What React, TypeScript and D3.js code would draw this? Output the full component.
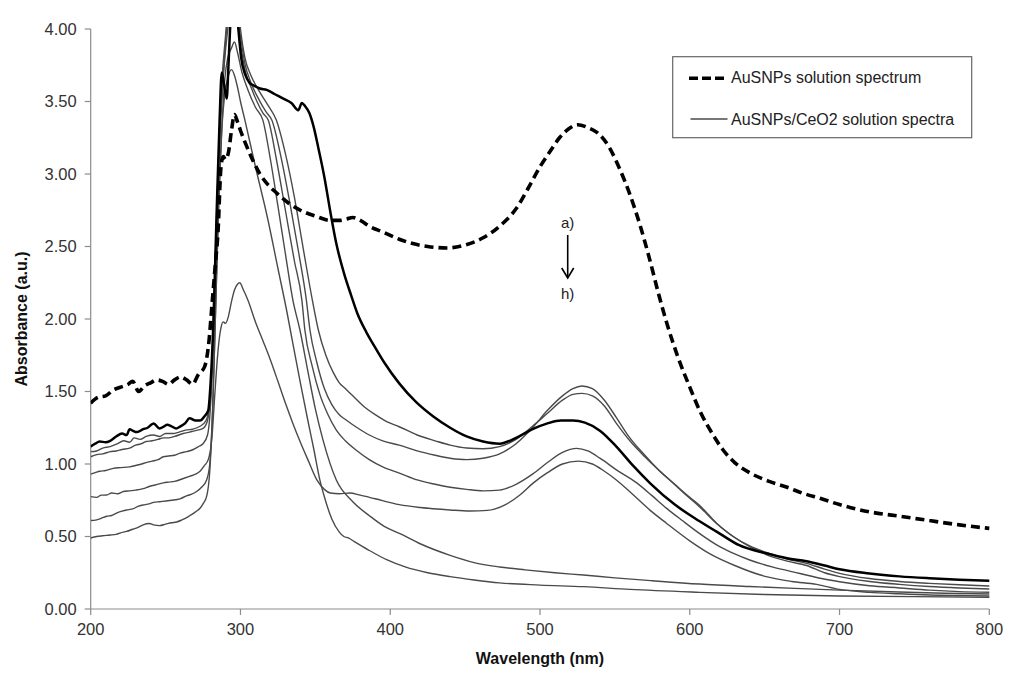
import * as d3 from 'd3';
import * as React from 'react';

// wavelength ticks and absorbance ticks
const xTicks = [200, 300, 400, 500, 600, 700, 800];
const yTicks = [0, 0.5, 1, 1.5, 2, 2.5, 3, 3.5, 4];

// AuSNPs solution spectrum (dashed)
const ausnpWl = [200, 205, 210, 215, 220, 225, 228, 232, 236, 240, 244, 248, 252, 256, 260, 264, 268, 272, 276, 279, 281, 283, 285, 287, 288.5, 290, 292, 294, 296, 298, 300, 303, 308, 313, 318, 324, 332, 340, 350, 360, 366, 371, 375, 380, 386, 395, 406, 415, 425, 438, 450, 462, 473, 484, 492, 500, 507, 513, 519, 525, 532, 540, 547, 553, 560, 567, 573, 579, 585, 592, 600, 607, 615, 622, 630, 640, 653, 665, 675, 688, 700, 720, 740, 760, 780, 800];
const ausnpAbs = [1.42, 1.46, 1.47, 1.51, 1.53, 1.55, 1.57, 1.5, 1.54, 1.56, 1.58, 1.57, 1.55, 1.58, 1.6, 1.58, 1.55, 1.62, 1.67, 1.85, 2.1, 2.35, 2.6, 3.05, 3.12, 3.1, 3.15, 3.3, 3.41, 3.36, 3.3, 3.22, 3.1, 3.0, 2.93, 2.87, 2.8, 2.75, 2.71, 2.68, 2.68, 2.69, 2.7, 2.68, 2.64, 2.6, 2.55, 2.52, 2.5, 2.49, 2.51, 2.56, 2.64, 2.76, 2.9, 3.05, 3.16, 3.25, 3.31, 3.34, 3.32, 3.27, 3.17, 3.04, 2.86, 2.64, 2.42, 2.18, 1.96, 1.74, 1.53, 1.36, 1.21, 1.1, 1.01, 0.94, 0.88, 0.84, 0.8, 0.76, 0.72, 0.67, 0.64, 0.61, 0.58, 0.556];

// AuSNPs/CeO2 spectra: bold one
const boldWl = [200, 203, 206, 210, 213, 217, 221, 224, 226, 228, 231, 235, 238, 242, 246, 249, 251, 254, 257, 260, 263, 266, 270, 273, 276, 278.5, 280, 282, 284, 286, 287.5, 289, 290.8, 292, 293.5, 295, 297, 298.6, 300.5, 303, 306, 309, 313, 317.5, 323, 328.6, 334, 338.6, 341, 343, 346, 349, 352, 356, 360, 364, 369, 374, 378, 384, 389, 396, 406, 417, 429, 440, 451, 462, 473, 484, 495, 505, 514, 522, 530, 540, 551, 562, 573.6, 590, 606.6, 620, 633, 651, 665, 678, 690, 700, 720, 740, 760, 780, 800];
const boldAbs = [1.12, 1.14, 1.155, 1.15, 1.16, 1.19, 1.21, 1.2, 1.24, 1.23, 1.22, 1.24, 1.25, 1.28, 1.245, 1.26, 1.27, 1.26, 1.245, 1.26, 1.28, 1.315, 1.3, 1.3, 1.33, 1.37, 1.55, 2.0, 2.7, 3.35, 3.7, 3.62, 3.52, 3.75, 4.1, 4.3, 4.2, 4.0, 3.8, 3.69, 3.63, 3.61, 3.59, 3.58, 3.55, 3.52, 3.49, 3.44, 3.49, 3.47, 3.42, 3.32, 3.18, 2.98, 2.74, 2.52, 2.32, 2.16, 2.04, 1.91, 1.82, 1.7, 1.556, 1.43, 1.326, 1.25, 1.19, 1.155, 1.14, 1.18, 1.24, 1.28, 1.3, 1.3, 1.285, 1.23, 1.12, 0.99, 0.867, 0.72, 0.605, 0.52, 0.44, 0.384, 0.35, 0.33, 0.3, 0.274, 0.245, 0.225, 0.212, 0.202, 0.195];

// thin spectra
const specAWl = [200, 204, 208, 213, 218, 222, 226, 229, 233, 237, 242, 246, 250, 255, 259, 264, 268, 273, 277, 280, 282, 284, 286, 288, 290, 292, 294, 296, 298, 300, 303, 307, 312, 318, 324, 330, 336, 342, 348, 352, 357, 362, 366, 370, 375, 382, 390, 398, 406, 418, 430, 440, 451, 462, 473, 484, 495, 505, 515, 522, 528, 535, 543, 551, 560, 570, 578, 586.6, 596, 607, 618, 629, 640, 651, 665, 678, 690, 700, 720, 740, 760, 780, 800];
const specAAbs = [1.085, 1.09, 1.11, 1.12, 1.14, 1.16, 1.15, 1.18, 1.17, 1.19, 1.2, 1.19, 1.21, 1.21, 1.22, 1.235, 1.24, 1.26, 1.3, 1.45, 1.9, 2.6, 3.2, 3.6, 3.85, 4.05, 4.3, 4.4, 4.2, 4.0, 3.8, 3.68, 3.58, 3.48, 3.37, 3.14, 2.84, 2.48, 2.13, 1.924, 1.75, 1.63, 1.56, 1.52, 1.47, 1.4, 1.34, 1.29, 1.257, 1.2, 1.16, 1.13, 1.11, 1.105, 1.12, 1.17, 1.26, 1.35, 1.44, 1.48, 1.487, 1.47, 1.4, 1.28, 1.16, 1.05, 0.97, 0.89, 0.8, 0.7, 0.59, 0.5, 0.435, 0.39, 0.345, 0.315, 0.275, 0.246, 0.21, 0.19, 0.177, 0.167, 0.159];

const specBWl = [200, 204, 208, 213, 217, 221, 226, 230, 234, 237, 241, 245, 248.5, 252, 256, 261.8, 266, 270, 275, 278, 280, 282, 284, 286, 288, 290, 292, 294, 296, 298, 300, 303, 307, 312, 317, 321, 327, 333, 339, 344, 346.4, 351, 356, 361, 366, 371, 378, 386, 395, 406, 418, 430, 440, 451, 462, 473, 484, 495, 505, 515, 522, 528, 535, 543, 551, 560, 570, 580, 590, 600, 607, 618, 629, 640, 651, 665, 678, 690, 700, 720, 740, 760, 780, 800];
const specBAbs = [1.05, 1.065, 1.07, 1.085, 1.09, 1.1, 1.11, 1.13, 1.14, 1.155, 1.16, 1.17, 1.18, 1.18, 1.19, 1.21, 1.22, 1.23, 1.245, 1.3, 1.5, 2.0, 2.7, 3.3, 3.7, 3.95, 4.2, 4.4, 4.3, 4.1, 3.95, 3.76, 3.63, 3.52, 3.43, 3.37, 3.12, 2.8, 2.45, 2.13, 1.924, 1.7, 1.52, 1.41, 1.34, 1.3, 1.25, 1.2, 1.16, 1.13, 1.09, 1.06, 1.04, 1.03, 1.04, 1.07, 1.14, 1.25, 1.37, 1.47, 1.52, 1.538, 1.52, 1.44, 1.32, 1.18, 1.06, 0.95, 0.86, 0.77, 0.71, 0.59, 0.5, 0.43, 0.375, 0.33, 0.3, 0.25, 0.223, 0.19, 0.17, 0.155, 0.145, 0.138];

const specCWl = [200, 203, 206, 210, 215, 220, 226, 230, 234, 237, 241, 245, 248.5, 252, 256, 259.6, 264, 268.5, 272, 275, 278, 280, 282, 284, 286, 288, 290, 292, 294, 296, 298, 300, 303, 307, 311, 315, 318.6, 324, 330, 336, 341, 343, 348, 353, 358, 364, 370, 378, 386, 395, 406.5, 418, 430, 440, 451, 462, 473, 484, 495, 505, 515, 524.5, 532, 540, 551, 564.6, 575, 584.6, 595, 606.6, 620, 630, 640, 655, 673.6, 688, 700, 720, 740, 760, 780, 800];
const specCAbs = [0.93, 0.94, 0.95, 0.955, 0.97, 0.975, 0.98, 0.99, 1.0, 1.01, 1.02, 1.03, 1.05, 1.055, 1.06, 1.075, 1.085, 1.1, 1.12, 1.14, 1.2, 1.4, 1.9, 2.6, 3.2, 3.6, 3.9, 4.15, 4.3, 4.25, 4.05, 3.9, 3.72, 3.6, 3.5, 3.42, 3.37, 3.1, 2.75, 2.4, 2.13, 1.924, 1.67, 1.48, 1.35, 1.234, 1.16, 1.09, 1.03, 0.98, 0.936, 0.89, 0.86, 0.84, 0.825, 0.815, 0.82, 0.86, 0.93, 1.01, 1.08, 1.108, 1.09, 1.04, 0.96, 0.87, 0.78, 0.694, 0.61, 0.52, 0.43, 0.38, 0.338, 0.29, 0.245, 0.21, 0.188, 0.16, 0.145, 0.13, 0.12, 0.115];

const specDWl = [200, 204, 207, 210.7, 214, 218, 221.8, 226, 230, 235, 239, 243, 248.5, 252, 256, 261.8, 266, 270, 273, 276, 278.5, 280.8, 283, 285, 287, 288.5, 290, 292, 294, 296, 298, 299.5, 302, 305, 310, 315, 320, 325, 330, 335, 340, 345, 351, 356, 360, 366, 373, 380, 390, 406, 420, 440, 453, 465, 477, 487, 495.6, 505, 515, 525.6, 535, 543, 551, 562, 573.6, 584.6, 600, 613.5, 630, 651, 668, 684.7, 700, 720, 740, 760, 780, 800];
const specDAbs = [0.775, 0.77, 0.785, 0.786, 0.8, 0.795, 0.81, 0.815, 0.82, 0.83, 0.845, 0.855, 0.87, 0.875, 0.88, 0.9, 0.915, 0.93, 0.95, 0.99, 1.03, 1.165, 1.5, 1.78, 1.94, 1.98, 1.97, 2.02, 2.12, 2.2, 2.24, 2.25, 2.2, 2.13, 1.98, 1.85, 1.717, 1.57, 1.42, 1.28, 1.15, 1.03, 0.89, 0.825, 0.8, 0.795, 0.8, 0.785, 0.76, 0.72, 0.7, 0.683, 0.676, 0.68, 0.72, 0.79, 0.87, 0.94, 1.0, 1.02, 1.0, 0.95, 0.89, 0.79, 0.68, 0.59, 0.47, 0.38, 0.3, 0.223, 0.19, 0.17, 0.135, 0.115, 0.105, 0.097, 0.093, 0.09];

const specEWl = [200, 204, 207, 210.7, 214, 218, 221, 224, 228, 232, 235, 239, 242, 246, 250, 254, 259.6, 264, 267, 270.7, 274, 277.4, 279.5, 281.5, 283.5, 285.5, 287.5, 289.5, 291.5, 294, 296, 298, 301, 305, 310, 315, 320, 325, 330, 335, 339.7, 345, 350, 355, 364, 375, 386.5, 396, 406.5, 420, 440, 456, 473, 490, 510, 529, 550, 575, 606.6, 640, 670, 700, 740, 770, 800];
const specEAbs = [0.61, 0.615, 0.625, 0.64, 0.645, 0.665, 0.675, 0.683, 0.69, 0.71, 0.717, 0.725, 0.735, 0.74, 0.745, 0.75, 0.76, 0.78, 0.79, 0.81, 0.84, 0.89, 1.0, 1.4, 2.1, 2.8, 3.3, 3.65, 3.8, 3.87, 3.91, 3.84, 3.7, 3.58, 3.46, 3.37, 3.1, 2.78, 2.45, 2.13, 1.924, 1.64, 1.38, 1.17, 0.89, 0.74, 0.64, 0.57, 0.52, 0.45, 0.37, 0.32, 0.29, 0.27, 0.25, 0.234, 0.215, 0.195, 0.172, 0.155, 0.142, 0.13, 0.117, 0.109, 0.103];

const specFWl = [200, 204, 208, 213, 217, 220, 224, 228, 232, 235, 239, 242, 246, 250, 254, 257.4, 261, 264, 266.3, 270, 273, 275, 277.5, 279.5, 281.5, 283.5, 285.5, 287.5, 289.5, 291.5, 294, 296, 298, 300, 303, 310, 318, 325, 331, 335, 340, 345, 349, 353, 357, 361, 366, 369, 372, 376, 385, 397.6, 410, 425, 440, 456, 473, 500, 529, 560, 606.6, 650, 700, 750, 800];
const specFAbs = [0.49, 0.5, 0.505, 0.51, 0.515, 0.525, 0.535, 0.55, 0.565, 0.58, 0.59, 0.58, 0.575, 0.585, 0.595, 0.6, 0.615, 0.63, 0.645, 0.67, 0.695, 0.725, 0.78, 0.95, 1.4, 2.1, 2.8, 3.3, 3.55, 3.66, 3.72, 3.68, 3.6, 3.5, 3.37, 3.05, 2.7, 2.35, 2.05, 1.83, 1.56, 1.3, 1.1, 0.89, 0.74, 0.62, 0.53, 0.5, 0.49, 0.465, 0.41, 0.34, 0.29, 0.25, 0.223, 0.2, 0.18, 0.165, 0.154, 0.135, 0.115, 0.1, 0.09, 0.085, 0.081];

const thinSpectra = [
  [specFWl, specFAbs],
  [specEWl, specEAbs],
  [specDWl, specDAbs],
  [specCWl, specCAbs],
  [specBWl, specBAbs],
  [specAWl, specAAbs],
];

const font = '"Liberation Sans", Arial, sans-serif';

const App = () => {
  const width = 1024;
  const height = 683;
  const xScale = d3.scaleLinear().domain([200, 800]).range([90.7, 989.3]);
  const yScale = d3.scaleLinear().domain([0, 4]).range([609, 29]);

  const line = d3
    .line<[number, number]>()
    .x((d) => xScale(d[0]))
    .y((d) => yScale(d[1]))
    .curve(d3.curveMonotoneX);

  const toPath = (wl: number[], abs: number[]) => line(wl.map((w, i) => [w, abs[i]] as [number, number])) || '';
  const fmt = d3.format('.2f');
  const [x0, x1] = xScale.range();
  const [yb, yt] = yScale.range();
  const arrowX = xScale(518.5);

  return (
    <div style={{ position: 'absolute', left: 0, top: 0 }}>
      <svg width={width} height={height} style={{ display: 'block', background: '#fff' }}>
        <defs>
          <clipPath id="plot-clip">
            <rect x={x0} y={yt - 2} width={x1 - x0 + 2} height={yb - yt + 2} />
          </clipPath>
        </defs>

        {/* axes */}
        <g stroke="#8c8c8c" strokeWidth={1.2} fill="none">
          <line x1={x0} x2={x0} y1={yt} y2={yb} />
          <line x1={x0} x2={x1} y1={yb} y2={yb} />
          {yTicks.map((t) => (
            <line key={'yt' + t} x1={x0 - 6} x2={x0} y1={yScale(t)} y2={yScale(t)} />
          ))}
          {xTicks.map((t) => (
            <line key={'xt' + t} x1={xScale(t)} x2={xScale(t)} y1={yb} y2={yb + 6} />
          ))}
        </g>
        <g fontFamily={font} fontSize={16.5} fill="#333">
          {yTicks.map((t) => (
            <text key={'yl' + t} x={x0 - 14} y={yScale(t)} dy="0.35em" textAnchor="end">
              {fmt(t)}
            </text>
          ))}
          {xTicks.map((t) => (
            <text key={'xl' + t} x={xScale(t)} y={yb + 26} textAnchor="middle">
              {t}
            </text>
          ))}
        </g>
        <text x={(x0 + x1) / 2} y={664} textAnchor="middle" fontFamily={font} fontWeight="bold" fontSize={16} fill="#111">
          Wavelength (nm)
        </text>
        <text
          transform={`translate(27,${(yt + yb) / 2}) rotate(-90)`}
          textAnchor="middle"
          fontFamily={font}
          fontWeight="bold"
          fontSize={16}
          fill="#111"
        >
          Absorbance (a.u.)
        </text>

        {/* spectra */}
        <g clipPath="url(#plot-clip)" fill="none" strokeLinejoin="round">
          {thinSpectra.map(([wl, abs], i) => (
            <path key={'s' + i} d={toPath(wl, abs)} stroke="#4a4a4a" strokeWidth={1.4} />
          ))}
          <path d={toPath(boldWl, boldAbs)} stroke="#000" strokeWidth={2.5} />
          <path d={toPath(ausnpWl, ausnpAbs)} stroke="#000" strokeWidth={3.6} strokeDasharray="9 5" />
        </g>

        {/* a) -> h) annotation */}
        <g fontFamily={font} fontSize={15} fill="#222" textAnchor="middle">
          <text x={arrowX} y={228}>a)</text>
          <text x={arrowX} y={299}>h)</text>
        </g>
        <g stroke="#000" strokeWidth={1.6} fill="none">
          <line x1={arrowX} x2={arrowX} y1={235} y2={278} />
          <polyline points={`${arrowX - 6},268 ${arrowX},278 ${arrowX + 6},268`} />
        </g>

        {/* legend */}
        <rect x={672.7} y={56.7} width={299} height={81} fill="#fff" stroke="#666" strokeWidth={1.2} />
        <line x1={689} x2={724} y1={78.3} y2={78.3} stroke="#000" strokeWidth={3.6} strokeDasharray="9 4" />
        <line x1={690.5} x2={727.5} y1={119} y2={119} stroke="#4a4a4a" strokeWidth={1.4} />
        <g fontFamily={font} fontSize={16} fill="#222">
          <text x={731} y={83}>AuSNPs solution spectrum</text>
          <text x={731} y={124.5}>AuSNPs/CeO2 solution spectra</text>
        </g>
      </svg>
    </div>
  );
};

export default App;
